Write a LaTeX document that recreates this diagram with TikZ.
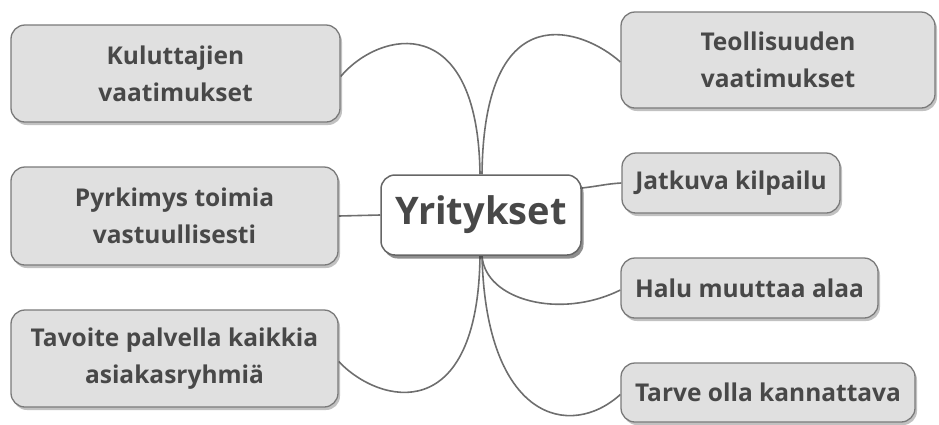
\documentclass[tikz,border=0pt]{standalone}
\usepackage{fontspec}
\setmainfont{Open Sans}
\usepackage{tikz}
\usetikzlibrary{shadows,backgrounds}

\definecolor{boxfill}{HTML}{E0E0E0}
\definecolor{boxline}{HTML}{7A7A7A}
\definecolor{textgray}{HTML}{484848}
\definecolor{linkgray}{HTML}{6E6E6E}

\begin{document}
\begin{tikzpicture}[
        x=1pt, y=-1pt,
        idea/.style={draw=boxline, fill=boxfill, line width=1.3pt, rounded corners=14pt,
            align=center, text=textgray, font=\fontsize{24.5}{37}\selectfont\bfseries, inner sep=0pt,
            drop shadow={shadow xshift=2pt, shadow yshift=-3pt, opacity=0.35, fill=black!70}},
        hub/.style={draw=black!60, fill=white, line width=1.5pt, rounded corners=14pt,
            text=textgray, font=\fontsize{38}{40}\selectfont\bfseries, inner sep=0pt,
            minimum width=200pt, minimum height=80pt,
            drop shadow={shadow xshift=2.5pt, shadow yshift=-3.5pt, opacity=0.55, fill=black!80}},
        link/.style={draw=linkgray, line width=1.6pt}
    ]
        \useasboundingbox (0,0) rectangle (939,424);

        \node[hub] (yri) at (481,215) {Yritykset};

        \node[idea, minimum width=329pt, minimum height=97pt] (kul) at (175.5,73.5) {Kuluttajien\\vaatimukset};
        \node[idea, minimum width=327pt, minimum height=98pt] (pyr) at (174.5,216) {Pyrkimys toimia\\vastuullisesti};
        \node[idea, minimum width=327pt, minimum height=97pt] (tav) at (174.5,358.5) {Tavoite palvella kaikkia\\asiakasryhmiä};
        \node[idea, minimum width=314pt, minimum height=96pt] (teo) at (778,60) {Teollisuuden\\vaatimukset};
        \node[idea, minimum width=218pt, minimum height=60pt] (jat) at (731,183) {Jatkuva kilpailu};
        \node[idea, minimum width=257pt, minimum height=60pt] (hal) at (749.5,288) {Halu muuttaa alaa};
        \node[idea, minimum width=294pt, minimum height=59pt] (tar) at (768,392.5) {Tarve olla kannattava};

        % branches
        \begin{scope}[on background layer]
        \draw[link] ([yshift=-3pt]kul.east) .. controls (380,30) and (478,10) .. ([xshift=-1pt]yri.north);
        \draw[link] (pyr.east) -- (yri.west);
        \draw[link] ([yshift=-3pt]tav.east) .. controls (380,405) and (478,427) .. ([xshift=-1pt]yri.south);
        \draw[link] ([xshift=1pt]yri.north) .. controls (484,-10) and (585,30) .. ([yshift=-2pt]teo.west);
        \draw[link] ([yshift=27pt]yri.east) .. controls (600,186) and (605,184) .. (jat.west);
        \draw[link] ([xshift=1pt]yri.south) .. controls (485,300) and (560,320) .. ([yshift=-2pt]hal.west);
        \draw[link] ([xshift=1pt]yri.south) .. controls (486,420) and (570,440) .. ([yshift=-2pt]tar.west);
        \end{scope}
    \end{tikzpicture}
\end{document}
